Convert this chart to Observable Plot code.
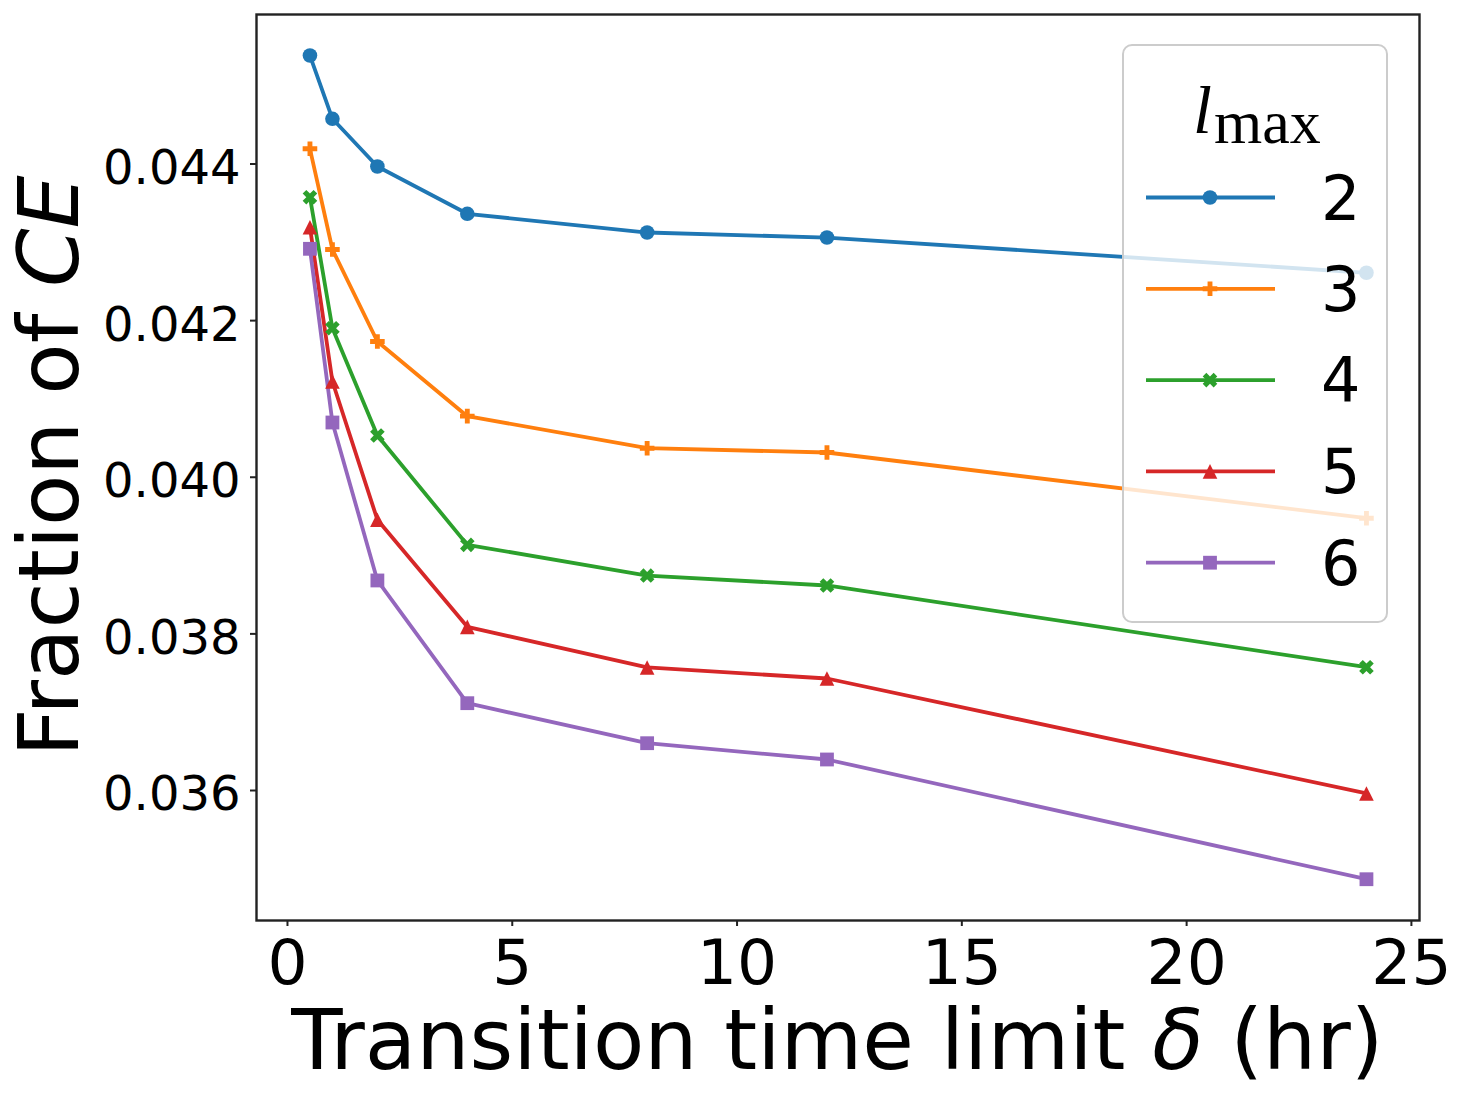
<!DOCTYPE html>
<html>
<head>
<meta charset="utf-8">
<script src="https://cdn.jsdelivr.net/npm/d3@7"></script>
<script src="https://cdn.jsdelivr.net/npm/@observablehq/plot@0.6"></script>
<style>
  html, body { margin: 0; padding: 0; background: #ffffff; }
  svg text { white-space: pre; }
</style>
</head>
<body>
<div id="chart"></div>
<script>
// ---- data ----
const deltas = [0.5, 1, 2, 4, 8, 12, 24];
const lmaxLabels = ["2", "3", "4", "5", "6"];
const frac2 = [0.045385, 0.044577, 0.043968, 0.043364, 0.043125, 0.043061, 0.042611];
const frac3 = [0.044194, 0.042908, 0.041733, 0.040780, 0.040371, 0.040316, 0.039477];
const frac4 = [0.043576, 0.041903, 0.040533, 0.039137, 0.038745, 0.038618, 0.037574];
const frac5 = [0.043193, 0.041223, 0.039457, 0.038090, 0.037571, 0.037430, 0.035962];
const frac6 = [0.042917, 0.040699, 0.038682, 0.037115, 0.036604, 0.036396, 0.034867];
const xTicks = [0, 5, 10, 15, 20, 25];
const yTicks = [0.036, 0.038, 0.040, 0.042, 0.044];
const colors = ["#1f77b4", "#ff7f0e", "#2ca02c", "#d62728", "#9467bd"];

const seriesValues = [frac2, frac3, frac4, frac5, frac6];

// ---- marker symbols (matplotlib-like) ----
const W = 14.6;
const circleSym = {draw(ctx) { const r = W / 2; ctx.moveTo(r, 0); ctx.arc(0, 0, r, 0, 2 * Math.PI); ctx.closePath(); }};
const plusFilled = {draw(ctx) {
  const a = W / 2, t = W / 6;
  const p = [[-t,-a],[t,-a],[t,-t],[a,-t],[a,t],[t,t],[t,a],[-t,a],[-t,t],[-a,t],[-a,-t],[-t,-t]];
  ctx.moveTo(p[0][0], p[0][1]); for (let i = 1; i < p.length; i++) ctx.lineTo(p[i][0], p[i][1]); ctx.closePath();
}};
const xFilled = {draw(ctx) {
  const s = W / 4;
  const p = [[-1,-2],[0,-1],[1,-2],[2,-1],[1,0],[2,1],[1,2],[0,1],[-1,2],[-2,1],[-1,0],[-2,-1]];
  ctx.moveTo(p[0][0]*s, p[0][1]*s); for (let i = 1; i < p.length; i++) ctx.lineTo(p[i][0]*s, p[i][1]*s); ctx.closePath();
}};
const triUp = {draw(ctx) { const h = W / 2; ctx.moveTo(0, -h); ctx.lineTo(h, h); ctx.lineTo(-h, h); ctx.closePath(); }};
const squareSym = {draw(ctx) { const h = 13.8 / 2; ctx.rect(-h, -h, 2 * h, 2 * h); }};
const symbols = [circleSym, plusFilled, xFilled, triUp, squareSym];

const rows = lmaxLabels.map((lab, i) => deltas.map((d, j) => ({delta: d, frac: seriesValues[i][j], lmax: lab})));

const marks = [
  Plot.frame({stroke: "#222", strokeWidth: 2.4}),
  Plot.axisX(xTicks, {anchor: "bottom", tickSize: 6, strokeWidth: 2, stroke: "#222", fill: "none", label: null}),
  Plot.axisX(xTicks, {anchor: "bottom", tickSize: 0, tickPadding: 18.6, fontSize: 63, fill: "#000", label: null, tickFormat: d3.format("d")}),
  Plot.axisY(yTicks, {anchor: "left", tickSize: 6, strokeWidth: 2, stroke: "#222", fill: "none", label: null}),
  Plot.axisY(yTicks, {anchor: "left", tickSize: 0, tickPadding: 16, fontSize: 48, dy: 4.6, fill: "#000", label: null, tickFormat: d3.format(".3f")})
];
rows.forEach((r, i) => {
  marks.push(Plot.line(r, {x: "delta", y: "frac", stroke: colors[i], strokeWidth: 3.8}));
});
rows.forEach((r, i) => {
  marks.push(Plot.dot(r, {x: "delta", y: "frac", fill: colors[i], stroke: "none", r: 7, symbol: symbols[i]}));
});

const chart = Plot.plot({
  width: 1466,
  height: 1099,
  marginLeft: 256,
  marginRight: 47,
  marginTop: 14,
  marginBottom: 179,
  x: {domain: [-0.689, 25.18]},
  y: {domain: [0.03434, 0.045909]},
  style: {fontFamily: "DejaVu Sans", background: "#ffffff", color: "#000", overflow: "visible"},
  marks
});
document.getElementById("chart").appendChild(chart);

// ---- axis labels (with math italic parts) ----
const svg = d3.select(chart);
const xl = svg.append("text")
  .attr("x", 837.5).attr("y", 1069)
  .attr("text-anchor", "middle")
  .attr("font-family", "DejaVu Sans").attr("font-size", 84).attr("fill", "#000");
xl.append("tspan").text("Transition time limit ");
xl.append("tspan").attr("font-style", "italic").text("δ");
xl.append("tspan").text(" (hr)");

const yl = svg.append("text")
  .attr("transform", "translate(78,466) rotate(-90)")
  .attr("text-anchor", "middle")
  .attr("font-family", "DejaVu Sans").attr("font-size", 84).attr("fill", "#000");
yl.append("tspan").text("Fraction of ");
yl.append("tspan").attr("font-style", "italic").text("CE");

// ---- legend ----
const lg = svg.append("g");
lg.append("rect")
  .attr("x", 1123).attr("y", 45).attr("width", 264).attr("height", 577)
  .attr("rx", 9).attr("ry", 9)
  .attr("fill", "#ffffff").attr("fill-opacity", 0.8)
  .attr("stroke", "#cccccc").attr("stroke-width", 2);
const tt = lg.append("text")
  .attr("x", 1193).attr("y", 133)
  .attr("text-anchor", "start")
  .attr("font-family", "Liberation Serif").attr("fill", "#000");
tt.append("tspan").attr("font-style", "italic").attr("font-size", 68).text("l");
tt.append("tspan").attr("font-size", 62).attr("dy", 10).attr("dx", 2).text("max");

lmaxLabels.forEach((lab, i) => {
  const yy = 197.5 + i * 91.3;
  lg.append("line")
    .attr("x1", 1146).attr("x2", 1275).attr("y1", yy).attr("y2", yy)
    .attr("stroke", colors[i]).attr("stroke-width", 3.8);
  lg.append("path")
    .attr("transform", `translate(1210,${yy})`)
    .attr("d", d3.symbol().type(symbols[i])())
    .attr("fill", colors[i]);
  lg.append("text")
    .attr("x", 1321).attr("y", yy + 22)
    .attr("text-anchor", "start")
    .attr("font-family", "DejaVu Sans").attr("font-size", 62).attr("fill", "#000")
    .text(lab);
});
</script>
</body>
</html>
